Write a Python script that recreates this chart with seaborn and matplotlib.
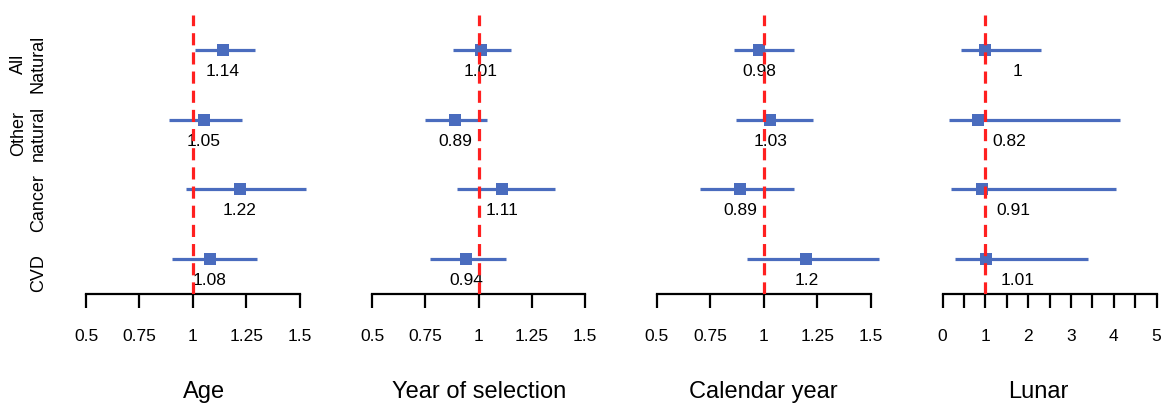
import pandas as pd
import matplotlib
matplotlib.use("Agg")
import matplotlib.pyplot as plt
import matplotlib.transforms as mtransforms
import seaborn as sns

causes = ["All\nNatural", "Other\nnatural", "Cancer", "CVD"]
panels = ["Age", "Year of selection", "Calendar year", "Lunar"]

age_est = [1.14, 1.05, 1.22, 1.08]
age_lo = [1.01, 0.89, 0.97, 0.90]
age_hi = [1.29, 1.23, 1.53, 1.30]

sel_est = [1.01, 0.89, 1.11, 0.94]
sel_lo = [0.88, 0.75, 0.90, 0.77]
sel_hi = [1.15, 1.04, 1.36, 1.13]

cal_est = [0.98, 1.03, 0.89, 1.20]
cal_lo = [0.86, 0.87, 0.70, 0.92]
cal_hi = [1.14, 1.23, 1.14, 1.54]

lun_est = [1.00, 0.82, 0.91, 1.01]
lun_lo = [0.42, 0.15, 0.20, 0.29]
lun_hi = [2.30, 4.14, 4.06, 3.40]

ticks_small = [0.5, 0.75, 1, 1.25, 1.5]
ticks_lunar = [0, 0.5, 1, 1.5, 2, 2.5, 3, 3.5, 4, 4.5, 5]
ticklabels_lunar = ["0", "", "1", "", "2", "", "3", "", "4", "", "5"]

rows = []
for p, est, lo, hi in zip(panels,
                          [age_est, sel_est, cal_est, lun_est],
                          [age_lo, sel_lo, cal_lo, lun_lo],
                          [age_hi, sel_hi, cal_hi, lun_hi]):
    for i, c in enumerate(causes):
        rows.append({"panel": p, "cause": c, "row": i, "est": est[i], "lo": lo[i], "hi": hi[i]})
df = pd.DataFrame(rows)

sns.set_theme(style="white")
plt.rcParams["font.family"] = ["Liberation Sans", "DejaVu Sans"]
plt.rcParams["text.color"] = "black"
plt.rcParams["axes.labelcolor"] = "black"
plt.rcParams["xtick.color"] = "black"
plt.rcParams["ytick.color"] = "black"

W, H = 1161, 407
fig = plt.figure(figsize=(W / 100, H / 100), dpi=100)

blue = "#4a6cbe"
# axes boxes in pixels: left, right, x limits, ticks, tick labels, title x, label offset
layout = [
    (68.9, 342.5, (0.42, 1.70), ticks_small, [f"{t:g}" for t in ticks_small], 1.05, 0.0),
    (355.3, 602.0, (0.42, 1.58), ticks_small, [f"{t:g}" for t in ticks_small], 1.0, 0.0),
    (639.6, 887.8, (0.42, 1.58), ticks_small, [f"{t:g}" for t in ticks_small], 1.0, 0.0),
    (934.1, 1158.8, (-0.2, 5.05), ticks_lunar, ticklabels_lunar, 2.23, 0.74),
]
top_px, bottom_px = 15, 294

for k, (p, (l, r, xlim, ticks, tlabels, title_x, lab_off)) in enumerate(zip(panels, layout)):
    ax = fig.add_axes([l / W, (H - bottom_px) / H, (r - l) / W, (bottom_px - top_px) / H])
    ax.patch.set_alpha(0)
    d = df[df["panel"] == p]
    ax.hlines(d["row"], d["lo"], d["hi"], color=blue, lw=2.3, zorder=2)
    sns.scatterplot(data=d, x="est", y="row", marker="s", s=68, color=blue,
                    linewidth=0, ax=ax, zorder=3, legend=False)
    for _, rr in d.iterrows():
        ax.text(rr["est"] + lab_off, rr["row"] + 0.31, f"{rr['est']:g}",
                ha="center", va="center", fontsize=12.5, color="black", zorder=4)
    ax.axvline(1, color="#ff2020", lw=2.3, dashes=(3.8, 2.2), zorder=5)
    ax.set_xlim(*xlim)
    ax.set_ylim(3.5, -0.5)
    for s in ["top", "right", "left"]:
        ax.spines[s].set_visible(False)
    ax.spines["bottom"].set_color("black")
    ax.spines["bottom"].set_linewidth(1.6)
    ax.spines["bottom"].set_bounds(ticks[0], ticks[-1])
    ax.set_xticks(ticks)
    ax.set_xticklabels(tlabels)
    ax.tick_params(axis="x", direction="out", length=10, width=1.6, color="black",
                   pad=15, labelsize=12.5, bottom=True, labelcolor="black")
    if k == 0:
        ax.set_yticks([i + 0.2 for i in range(len(causes))])
        ax.set_yticklabels(causes, rotation=90, va="center", multialignment="center", fontsize=13)
        ax.tick_params(axis="y", length=0, pad=16, labelcolor="black")
    else:
        ax.set_yticks([])
    ax.set_ylabel("")
    ax.set_xlabel(p, fontsize=17, color="black")
    ax.xaxis.set_label_coords(title_x, -0.351,
                              transform=mtransforms.blended_transform_factory(ax.transData, ax.transAxes))
    ax.xaxis.label.set_va("center")

fig.savefig("out.png", dpi=100)
